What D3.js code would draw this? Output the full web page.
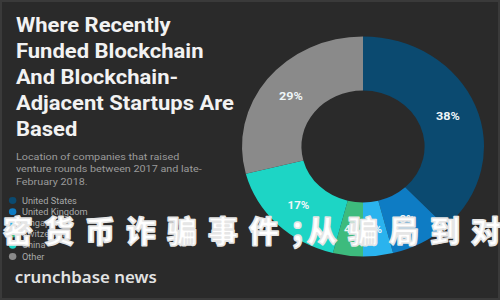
<!DOCTYPE html>
<html>
  <head>
    <script src="https://d3js.org/d3.v7.min.js"></script>
    <style>
      body { margin: 0; background: #2a2a2a; }
      svg { display: block; }
    </style>
  </head>
  <body>
    <svg></svg>
    <script>
      // data
      const countries = ['United States', 'United Kingdom', 'Singapore', 'Switzerland', 'China', 'Other'];
      const shares = [38, 8, 4, 4, 17, 29];
      const colors = ['#0b4a70', '#0e7cc4', '#2ab3ee', '#3dbb7d', '#1dd5c5', '#8a8a8a'];

      const titleLines = ['Where Recently', 'Funded Blockchain', 'And Blockchain-', 'Adjacent Startups Are', 'Based'];
      const subLines = ['Location of companies that raised', 'venture rounds between 2017 and late-', 'February 2018.'];

      const width = 500, height = 300;
      const stretch = 1.1; // picture is widened a little

      const svg = d3.select('svg')
        .attr('width', width)
        .attr('height', height);

      svg.append('rect')
        .attr('x', 1).attr('y', 1)
        .attr('width', width - 2).attr('height', height - 2)
        .attr('fill', '#2a2a2a')
        .attr('stroke', '#3a3a3a')
        .attr('stroke-width', 2);

      const g = svg.append('g')
        .attr('transform', `scale(${stretch},1)`);

      // title
      g.append('g').selectAll('text').data(titleLines)
        .enter().append('text')
          .attr('x', 14.5)
          .attr('y', (d, i) => 32.5 + i * 25.8)
          .attr('fill', '#f2f2f2')
          .style('font-family', 'Roboto, sans-serif')
          .style('font-weight', 700)
          .style('font-size', '20px')
          .text(d => d);

      g.append('g').selectAll('text').data(subLines)
        .enter().append('text')
          .attr('x', 14.5)
          .attr('y', (d, i) => 160 + i * 12.5)
          .attr('fill', '#9a9a9a')
          .style('font-family', 'Roboto, sans-serif')
          .style('font-size', '9.8px')
          .text(d => d);

      // legend
      const legend = g.append('g').selectAll('g').data(countries)
        .enter().append('g')
          .attr('transform', (d, i) => `translate(11.5,${200.5 + i * 11.2})`);

      legend.append('circle')
        .attr('r', 3.4)
        .attr('fill', (d, i) => colors[i]);

      legend.append('text')
        .attr('x', 8.5)
        .attr('y', 3)
        .attr('fill', '#a8a8a8')
        .style('font-family', 'Roboto, sans-serif')
        .style('font-size', '8.4px')
        .text(d => d);

      g.append('text')
        .attr('x', 13.5)
        .attr('y', 283)
        .attr('fill', '#e2e2e2')
        .attr('textLength', 129)
        .attr('lengthAdjust', 'spacingAndGlyphs')
        .style('font-family', '"Noto Sans", sans-serif')
        .style('font-weight', 600)
        .style('font-size', '16px')
        .text('crunchbase news');

      // donut
      const pie = d3.pie().sort(null).value(d => d);
      const arcs = pie(shares);
      const arc = d3.arc().innerRadius(56).outerRadius(110);

      const donut = g.append('g')
        .attr('transform', 'translate(330,146.5)');

      donut.selectAll('path').data(arcs)
        .enter().append('path')
          .attr('d', arc)
          .attr('fill', (d, i) => colors[i]);

      donut.selectAll('text').data(arcs)
        .enter().append('text')
          .attr('transform', d => `translate(${arc.centroid(d)})`)
          .attr('text-anchor', 'middle')
          .attr('dy', '0.35em')
          .attr('fill', '#eef6f8')
          .style('font-family', 'Roboto, sans-serif')
          .style('font-weight', 700)
          .style('font-size', d => d.data >= 20 ? '11.5px' : '10.5px')
          .text(d => d.data + '%');

      // overlay caption
      const cap = svg.append('text')
        .attr('x', -38)
        .attr('y', 242)
        .attr('fill', '#ffffff')
        .attr('stroke', '#e6e6e6')
        .attr('stroke-width', 1.6)
        .attr('stroke-linejoin', 'round')
        .style('font-family', '"Noto Sans CJK SC", sans-serif')
        .style('font-weight', 900)
        .style('font-size', '30px')
        .style('letter-spacing', '11px');

      cap.append('tspan').text('加密货币诈骗事件；');
      cap.append('tspan').attr('dx', -24).text('从骗局到对策');
    </script>
  </body>
</html>
